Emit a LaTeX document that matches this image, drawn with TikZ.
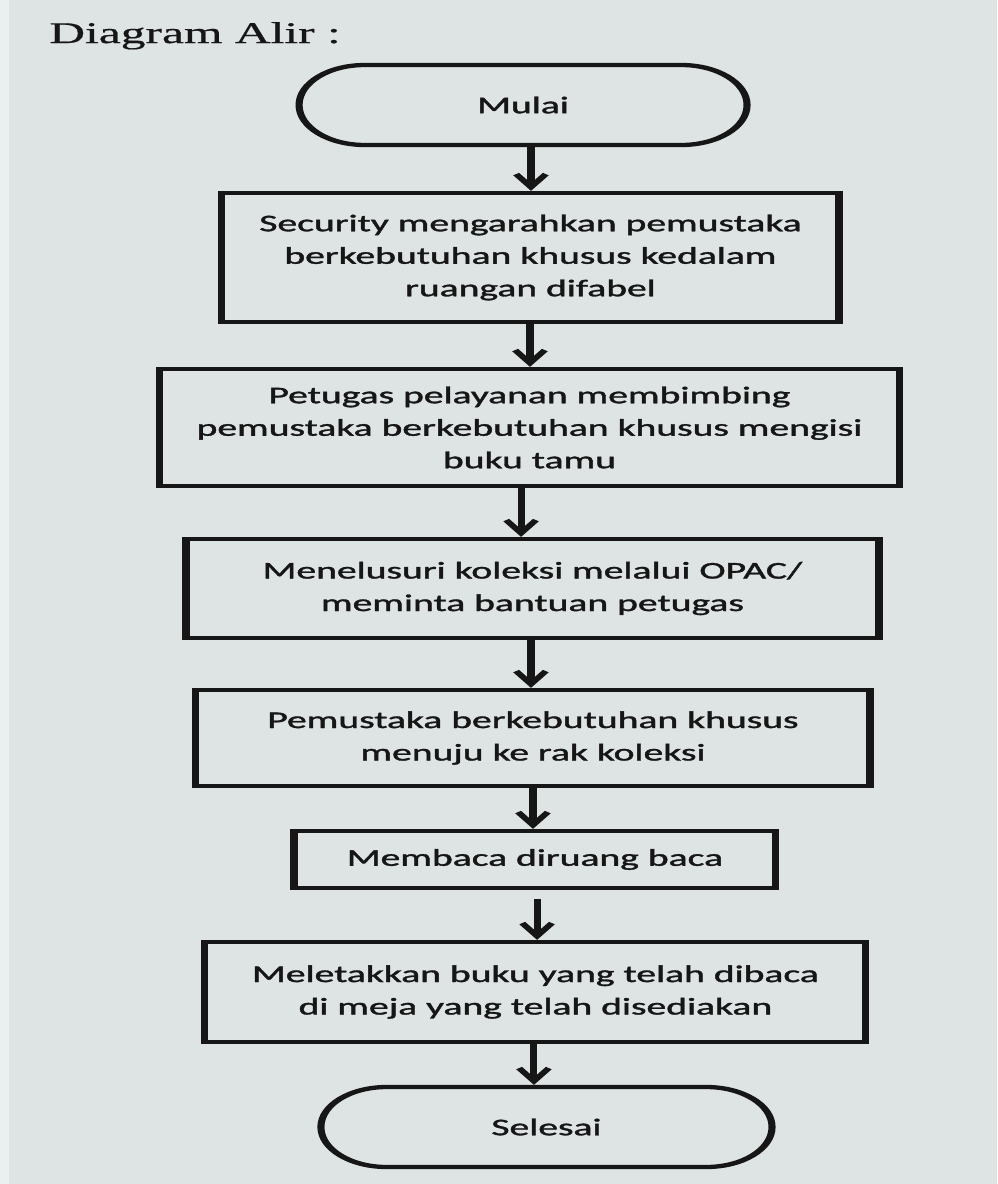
\documentclass[tikz,border=0pt]{standalone}
\usepackage{fontspec}
\newfontfamily\boxfont{Carlito}[FakeBold=1.2]
\newfontfamily\titlefont{Liberation Serif}[FakeBold=0.5]
\usetikzlibrary{arrows.meta}
\definecolor{bg}{RGB}{222,227,228}
\definecolor{edge}{RGB}{236,239,240}
\definecolor{ink}{RGB}{22,22,22}
\begin{document}
\begin{tikzpicture}[
  stepbox/.style={draw=ink, line width=4.3pt, rectangle, inner sep=0pt, align=center, text=ink,
    font=\boxfont\fontsize{24pt}{32.5pt}\selectfont},
  termbox/.style={stepbox, rounded corners=39.9pt},
  arr/.style={draw=ink, line width=4.3pt, -{Straight Barb[length=13pt,width=18pt]}},
]
\fill[bg] (0,0) rectangle (997pt,-1184pt);
\fill[edge] (0,0) rectangle (9pt,-1184pt);
\useasboundingbox (0,0) rectangle (997pt,-1184pt);
\begin{scope}[transform canvas={xscale=1.65}]
\node[anchor=base west, inner sep=0pt, text=ink, font=\titlefont\fontsize{30pt}{36pt}\selectfont] (title) at (29.7pt,-43pt) {Diagram Alir :};

\node[termbox, minimum width=271.5pt, minimum height=80pt] (start) at (317pt,-105pt) {Mulai};
\node[stepbox, minimum width=374pt, minimum height=129pt] (b1) at (321.5pt,-257.5pt)
  {Security mengarahkan pemustaka\\berkebutuhan khusus kedalam\\ruangan difabel};
\node[stepbox, minimum width=449pt, minimum height=117pt] (b2) at (320.9pt,-427.5pt)
  {Petugas pelayanan membimbing\\pemustaka berkebutuhan khusus mengisi\\buku tamu};
\node[stepbox, minimum width=420pt, minimum height=99pt] (b3) at (322.7pt,-588.5pt)
  {Menelusuri koleksi melalui OPAC/\\meminta bantuan petugas};
\node[stepbox, minimum width=408.5pt, minimum height=96pt] (b4) at (323pt,-738pt)
  {Pemustaka berkebutuhan khusus\\menuju ke rak koleksi};
\node[stepbox, minimum width=292pt, minimum height=57pt] (b5) at (324.2pt,-859.5pt)
  {Membaca diruang baca};
\node[stepbox, minimum width=400.6pt, minimum height=100pt] (b6) at (324.5pt,-992pt)
  {Meletakkan buku yang telah dibaca\\di meja yang telah disediakan};
\node[termbox, minimum width=273.4pt, minimum height=80pt] (end) at (331.2pt,-1127pt) {Selesai};

\coordinate (x1) at (321.8pt,0pt);
\coordinate (x2) at (321.2pt,0pt);
\coordinate (x3) at (315.8pt,0pt);
\coordinate (x4) at (321.8pt,0pt);
\coordinate (x5) at (323pt,0pt);
\coordinate (x6) at (325.5pt,0pt);
\coordinate (x7) at (323.6pt,0pt);

\draw[arr] (start.south -| x1) -- (b1.north -| x1);
\draw[arr] (b1.south -| x2) -- (b2.north -| x2);
\draw[arr] (b2.south -| x3) -- (b3.north -| x3);
\draw[arr] (b3.south -| x4) -- (b4.north -| x4);
\draw[arr] (b4.south -| x5) -- (b5.north -| x5);
\draw[arr, shorten <=9pt] (b5.south -| x6) -- (b6.north -| x6);
\draw[arr] (b6.south -| x7) -- (end.north -| x7);
\end{scope}
\end{tikzpicture}
\end{document}
